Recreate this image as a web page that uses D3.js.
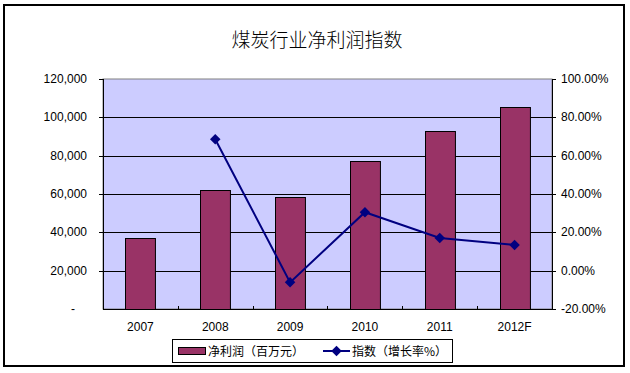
<!DOCTYPE html>
<html>
<head>
<meta charset="utf-8">
<script src="https://cdn.jsdelivr.net/npm/d3@7"></script>
<style>
  body { margin: 0; background: #fff; }
  svg text { font-family: "Liberation Sans", Arial, sans-serif; }
  .cjk { font-family: "Noto Sans CJK SC", sans-serif; }
</style>
</head>
<body>
<svg id="chart" width="630" height="373"></svg>
<script>
// data
const years = ["2007", "2008", "2009", "2010", "2011", "2012F"];
const profit = [37000, 62000, 58300, 77100, 92800, 105300];
const growth = [null, 68.6, -6.1, 30.5, 17.1, 13.4];
const leftTicks = [0, 20000, 40000, 60000, 80000, 100000, 120000];
const rightTicks = [-20, 0, 20, 40, 60, 80, 100];

const svg = d3.select("#chart");
const plot = { left: 103, right: 552, top: 79, bottom: 309 };

// outer frame
svg.append("rect")
    .attr("x", 4).attr("y", 5).attr("width", 620).attr("height", 361)
    .attr("fill", "#fff").attr("stroke", "#000").attr("stroke-width", 2);

svg.append("text").attr("class", "cjk")
    .attr("x", 317).attr("y", 47).attr("text-anchor", "middle")
    .attr("font-size", 19).attr("font-weight", 300)
    .text("煤炭行业净利润指数");

const x = d3.scaleBand().domain(years)
    .range([plot.left, plot.right]).paddingInner(0.6).paddingOuter(0.3);
const yL = d3.scaleLinear().domain([0, 120000]).range([plot.bottom, plot.top]);
const yR = d3.scaleLinear().domain([-20, 100]).range([plot.bottom, plot.top]);

// plot background
svg.append("rect")
    .attr("x", plot.left).attr("y", plot.top)
    .attr("width", plot.right - plot.left).attr("height", plot.bottom - plot.top)
    .attr("fill", "#ccccff").attr("stroke", "#808080");

// gridlines (also left ticks)
svg.append("g").selectAll("line")
    .data(leftTicks.filter(d => d > 0 && d < 120000)).enter().append("line")
    .attr("x1", plot.left - 4).attr("x2", plot.right)
    .attr("y1", d => Math.round(yL(d)) + 0.5).attr("y2", d => Math.round(yL(d)) + 0.5)
    .attr("stroke", "#000");

// left axis labels
const fmt = d3.format(",");
svg.append("g").selectAll("text")
    .data(leftTicks).enter().append("text")
    .attr("x", d => d === 0 ? 75 : 87).attr("y", d => yL(d) + 4)
    .attr("text-anchor", "end").attr("font-size", 12)
    .text(d => d === 0 ? "-" : fmt(d));

// right axis labels and ticks
svg.append("g").selectAll("text")
    .data(rightTicks).enter().append("text")
    .attr("x", 561).attr("y", d => yR(d) + 4)
    .attr("font-size", 12)
    .text(d => d.toFixed(2) + "%");
svg.append("g").selectAll("line")
    .data(rightTicks).enter().append("line")
    .attr("x1", plot.right).attr("x2", plot.right + 4)
    .attr("y1", d => Math.round(yR(d)) + 0.5).attr("y2", d => Math.round(yR(d)) + 0.5)
    .attr("stroke", "#000");

// bars
svg.append("g").selectAll("rect")
    .data(profit).enter().append("rect")
    .attr("x", (d, i) => Math.round(x(years[i])) + 0.5)
    .attr("y", d => Math.round(yL(d)) + 0.5)
    .attr("width", x.bandwidth())
    .attr("height", d => plot.bottom - Math.round(yL(d)))
    .attr("fill", "#993366").attr("stroke", "#000");

// axes lines
svg.append("line").attr("x1", plot.left + 0.5).attr("x2", plot.left + 0.5)
    .attr("y1", plot.top).attr("y2", plot.bottom).attr("stroke", "#000");
svg.append("line").attr("x1", plot.right + 0.5).attr("x2", plot.right + 0.5)
    .attr("y1", plot.top).attr("y2", plot.bottom).attr("stroke", "#000");
svg.append("line").attr("x1", plot.left).attr("x2", plot.right + 1)
    .attr("y1", plot.bottom + 0.5).attr("y2", plot.bottom + 0.5).attr("stroke", "#000");
svg.append("line").attr("x1", plot.left - 4).attr("x2", plot.left)
    .attr("y1", plot.top + 0.5).attr("y2", plot.top + 0.5).attr("stroke", "#000");

// x ticks at category boundaries
const step = x.step();
svg.append("g").selectAll("line")
    .data(years.slice(1)).enter().append("line")
    .attr("x1", d => Math.round(x(d) + x.bandwidth() / 2 - step / 2) + 0.5)
    .attr("x2", d => Math.round(x(d) + x.bandwidth() / 2 - step / 2) + 0.5)
    .attr("y1", plot.bottom - 3).attr("y2", plot.bottom)
    .attr("stroke", "#000");

svg.append("g").selectAll("text")
    .data(years).enter().append("text")
    .attr("x", d => x(d) + x.bandwidth() / 2).attr("y", 331)
    .attr("text-anchor", "middle").attr("font-size", 12)
    .text(d => d);

// growth line
const pts = years.map((d, i) => [x(d) + x.bandwidth() / 2, growth[i]]).filter(p => p[1] !== null);
svg.append("path")
    .attr("d", d3.line().x(p => p[0]).y(p => yR(p[1]))(pts))
    .attr("fill", "none").attr("stroke", "#000080").attr("stroke-width", 2);
const diamond = d3.symbol().type(d3.symbolDiamond2).size(70);
svg.append("g").selectAll("path")
    .data(pts).enter().append("path")
    .attr("d", diamond)
    .attr("transform", p => `translate(${p[0]},${yR(p[1])})`)
    .attr("fill", "#000080");

// legend
const lg = svg.append("g");
lg.append("rect").attr("x", 172.5).attr("y", 339.5).attr("width", 280).attr("height", 23)
    .attr("fill", "#fff").attr("stroke", "#000");
lg.append("rect").attr("x", 178.5).attr("y", 347.5).attr("width", 27).attr("height", 7)
    .attr("fill", "#993366").attr("stroke", "#000");
lg.append("text").attr("class", "cjk").attr("x", 208).attr("y", 356)
    .attr("font-size", 12).text("净利润（百万元）");
lg.append("line").attr("x1", 323).attr("x2", 350).attr("y1", 351).attr("y2", 351)
    .attr("stroke", "#000080").attr("stroke-width", 2);
lg.append("path").attr("d", diamond).attr("transform", "translate(336.5,351)").attr("fill", "#000080");
lg.append("text").attr("class", "cjk").attr("x", 352).attr("y", 356)
    .attr("font-size", 12).text("指数（增长率%）");
</script>
</body>
</html>
